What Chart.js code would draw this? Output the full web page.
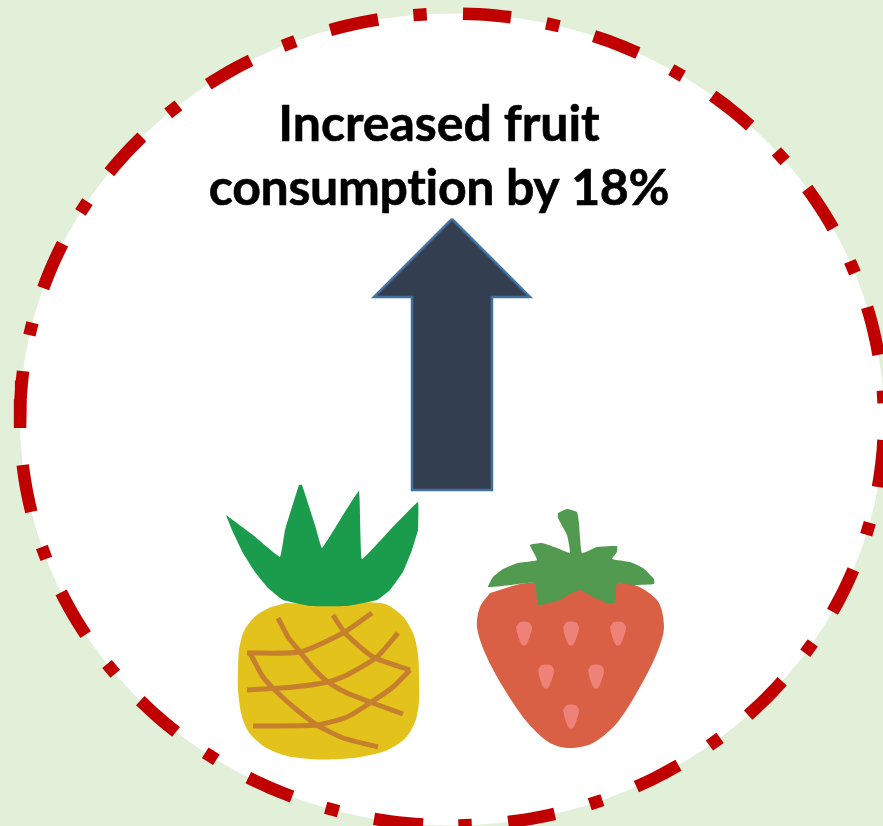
<!DOCTYPE html>
<html>
<head>
<meta charset="utf-8">
<style>
  html, body { margin: 0; padding: 0; background: #E2EFD9; overflow: hidden; }
  canvas { display: block; }
</style>
<script src="https://cdn.jsdelivr.net/npm/chart.js@4/dist/chart.umd.js"></script>
</head>
<body>
<canvas id="fruit" width="883" height="826"></canvas>
<script>
// Headline figure
const increasePercent = 18;
const headlineLines = ['Increased fruit', `consumption by ${increasePercent}%`];

// Shapes are stored as [x, y] pairs in the 883 x 826 plotting space
const ringCentre = [452, 419.5];
const ringRadii = [432, 406];
const ringShortLength = 13;

const ringLongDashes = [
  [[330, 29], [378, 19]], [[208, 84], [251, 61]], [[109, 172], [142, 137]],
  [[43, 288], [63, 244]], [[22, 371], [20, 428]], [[23, 465], [31, 512]],
  [[62, 592], [85, 635]], [[141, 700], [176, 732]], [[248, 778], [292, 797]],
  [[374, 819], [423, 825]], [[508, 821], [555, 815]], [[637, 788], [679, 766]],
  [[748, 715], [783, 682]], [[833, 612], [854, 570]], [[878, 487], [884, 440]],
  [[878, 355], [868, 307]], [[834, 228], [808, 188]], [[750, 126], [714, 94]],
  [[638, 53], [594, 36]], [[511, 17], [463, 13]]
];
const ringShortDashes = [
  [289, 43], [173, 109], [84, 207], [31, 329], [44, 553], [111, 669], [211, 756],
  [332, 810], [465, 823], [596, 802], [715, 742], [809, 648], [869, 529],
  [880, 397], [853, 267], [781, 156], [677, 73], [553, 24], [420, 14]
];

const arrowOutline = [
  [452, 219], [530, 297], [492, 297], [492, 490], [412, 490], [412, 297], [374, 297], [452, 219]
];

const pineappleBody = [
  [285, 603], [333, 604], [380, 603], [398, 612], [410, 627], [417, 648], [419, 680], [418, 710],
  [410, 732], [395, 746], [375, 754], [340, 759], [300, 758], [275, 752], [256, 740], [245, 725],
  [239, 700], [238, 670], [241, 640], [250, 622], [265, 610], [285, 603]
];
const pineappleCrown = [
  [226, 515], [253, 535], [280, 557], [285, 530], [299, 485], [302, 485], [315, 525], [322, 548],
  [340, 520], [359, 491], [362, 559], [390, 530], [418, 502], [418, 530], [412, 550], [403, 572],
  [390, 590], [377, 600], [347, 606], [310, 606], [283, 600], [268, 588], [255, 572], [243, 553],
  [232, 530], [226, 515]
];
const pineappleScores = [
  [[278, 618], [288, 637], [300, 652], [313, 668], [328, 682], [347, 693], [370, 702], [403, 714]],
  [[247, 653], [300, 652], [343, 633], [372, 613]],
  [[333, 615], [345, 633], [373, 657], [410, 670]],
  [[398, 633], [377, 657], [347, 675], [328, 682], [293, 687], [247, 690]],
  [[250, 653], [263, 677], [280, 695], [297, 710], [317, 725], [343, 738], [378, 747]],
  [[253, 726], [317, 725], [347, 717], [370, 703], [393, 687], [410, 670]]
];

const strawberryBody = [
  [490, 593], [527, 583], [627, 583], [657, 600], [664, 627], [657, 653], [640, 687], [617, 723],
  [593, 743], [570, 748], [550, 743], [527, 722], [503, 687], [485, 653], [477, 627], [480, 607], [490, 593]
];
const strawberryLeaves = [
  [558, 513], [567, 509], [577, 512], [579, 523], [582, 553], [597, 547], [617, 546], [617, 552],
  [612, 559], [630, 562], [643, 568], [654, 579], [654, 584], [633, 585], [617, 583], [615, 603],
  [607, 603], [593, 597], [580, 590], [570, 594], [560, 600], [538, 605], [535, 583], [510, 585],
  [488, 587], [493, 577], [503, 569], [518, 563], [537, 560], [530, 545], [542, 543], [557, 548],
  [570, 553], [567, 535], [558, 518], [558, 513]
];
const strawberrySeeds = [[524, 633], [571, 633], [618, 633], [546, 676], [596, 676], [571, 716]];
const seedOutline = [[-8, -6], [-4, -11], [4, -11], [8, -6], [6, 3], [2, 12], [-2, 12], [-6, 3], [-8, -6]];

const toPoints = pairs => pairs.map(([x, y]) => ({ x, y }));

// Closed, filled outline
const shape = (pairs, fillColor, extra = {}) => ({
  data: toPoints(pairs),
  showLine: true,
  fill: 'shape',
  backgroundColor: fillColor,
  borderColor: fillColor,
  borderWidth: 0,
  pointRadius: 0,
  tension: 0,
  ...extra
});

// Open stroked line
const stroke = (pairs, color, width, extra = {}) => ({
  data: toPoints(pairs),
  showLine: true,
  fill: false,
  borderColor: color,
  borderWidth: width,
  borderCapStyle: 'butt',
  pointRadius: 0,
  tension: 0,
  ...extra
});

const ellipseAngle = ([x, y]) =>
  Math.atan2((y - ringCentre[1]) / ringRadii[1], (x - ringCentre[0]) / ringRadii[0]);
const ellipsePoint = a =>
  [ringCentre[0] + ringRadii[0] * Math.cos(a), ringCentre[1] + ringRadii[1] * Math.sin(a)];

// Walks the ring between two measured dash ends so each dash stays curved
function ringArc(from, to) {
  const start = ellipseAngle(from);
  let sweep = ellipseAngle(to) - start;
  if (sweep > Math.PI) sweep -= 2 * Math.PI;
  if (sweep < -Math.PI) sweep += 2 * Math.PI;
  const pts = [];
  for (let i = 0; i <= 6; i++) pts.push(ellipsePoint(start + sweep * i / 6));
  return pts;
}

// Short ring dashes are centred on their point, with a fixed length along the ring
function shortDash(centre) {
  const a = ellipseAngle(centre);
  const half = (ringShortLength / 2) / ((ringRadii[0] + ringRadii[1]) / 2);
  return [ellipsePoint(a - half), ellipsePoint(a + half)];
}

// White disc behind everything
const discOutline = [];
for (let deg = 0; deg <= 360; deg += 3) discOutline.push(ellipsePoint(deg * Math.PI / 180));

const RED = '#C00000';
const layers = [
  shape(discOutline, '#FFFFFF'),
  ...ringLongDashes.map(([a, b]) => stroke(ringArc(a, b), RED, 12.5)),
  ...ringShortDashes.map(c => stroke(shortDash(c), RED, 12.5)),
  shape(arrowOutline, '#333F50', { borderColor: '#41719C', borderWidth: 2.5, borderJoinStyle: 'miter' }),
  shape(pineappleBody, '#E3C21C', { tension: 0.4 }),
  ...pineappleScores.map(s => stroke(s, '#C67F2C', 5, { borderJoinStyle: 'round', tension: 0.2 })),
  shape(pineappleCrown, '#1B9C4C', { tension: 0.08 }),
  shape(strawberryBody, '#D95F45', { tension: 0.3 }),
  ...strawberrySeeds.map(([cx, cy]) =>
    shape(seedOutline.map(([dx, dy]) => [cx + dx, cy + dy]), '#EE8278', { tension: 0.3 })),
  shape(strawberryLeaves, '#529A50', { tension: 0.12 })
];

// Later layers are painted over earlier ones
layers.forEach((layer, i) => { layer.order = layers.length - i; });

const headlinePlugin = {
  id: 'headline',
  afterDatasetsDraw(chart) {
    const { ctx, scales: { x, y } } = chart;
    const cx = x.getPixelForValue(439);
    ctx.save();
    ctx.font = 'bold 50px Lato, "Open Sans", sans-serif';
    ctx.fillStyle = '#000000';
    ctx.strokeStyle = '#000000';
    ctx.lineWidth = 0.6;
    ctx.lineJoin = 'round';
    ctx.textAlign = 'center';
    ctx.textBaseline = 'alphabetic';
    ctx.letterSpacing = '-0.05px';
    ctx.fillText(headlineLines[0], cx, y.getPixelForValue(141));
    ctx.strokeText(headlineLines[0], cx, y.getPixelForValue(141));
    ctx.letterSpacing = '-0.33px';
    ctx.fillText(headlineLines[1], cx, y.getPixelForValue(205));
    ctx.strokeText(headlineLines[1], cx, y.getPixelForValue(205));
    ctx.restore();
  }
};

new Chart(document.getElementById('fruit'), {
  type: 'scatter',
  data: { datasets: layers },
  plugins: [headlinePlugin],
  options: {
    responsive: false,
    animation: false,
    layout: { padding: 0 },
    plugins: { legend: { display: false }, tooltip: { enabled: false }, title: { display: false } },
    scales: {
      x: { type: 'linear', min: 0, max: 883, display: false },
      y: { type: 'linear', min: 0, max: 826, reverse: true, display: false }
    }
  }
});
</script>
</body>
</html>
